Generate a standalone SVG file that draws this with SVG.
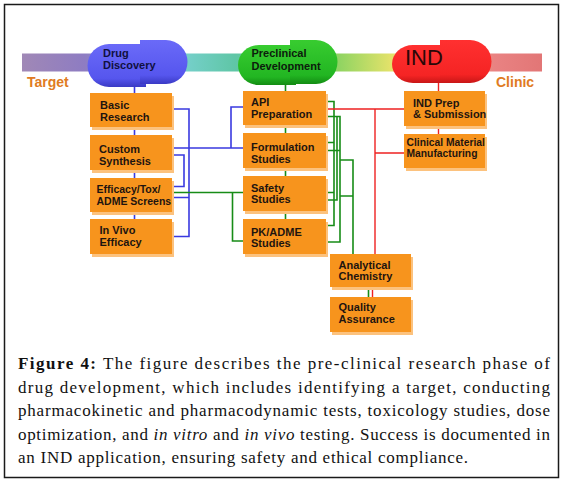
<svg xmlns="http://www.w3.org/2000/svg" width="564" height="486" viewBox="0 0 564 486">
<defs>
<linearGradient id="band" gradientUnits="userSpaceOnUse" x1="22" y1="0" x2="542" y2="0">
<stop offset="0" stop-color="#a088b6"/>
<stop offset="0.12" stop-color="#8e7cc2"/>
<stop offset="0.32" stop-color="#74cfc8"/>
<stop offset="0.41" stop-color="#5fc6a6"/>
<stop offset="0.61" stop-color="#90d462"/>
<stop offset="0.71" stop-color="#e4e26a"/>
<stop offset="0.91" stop-color="#e98282"/>
<stop offset="1" stop-color="#e27676"/>
</linearGradient>
<linearGradient id="gBlue" x1="0" y1="0" x2="0" y2="1">
<stop offset="0" stop-color="#6a6af8"/>
<stop offset="0.8" stop-color="#5656ee"/>
<stop offset="1" stop-color="#3a3ac4"/>
</linearGradient>
<linearGradient id="gGreen" x1="0" y1="0" x2="0" y2="1">
<stop offset="0" stop-color="#38cc30"/>
<stop offset="0.8" stop-color="#22b622"/>
<stop offset="1" stop-color="#138c13"/>
</linearGradient>
<linearGradient id="gRed" x1="0" y1="0" x2="0" y2="1">
<stop offset="0" stop-color="#ff3030"/>
<stop offset="0.8" stop-color="#f52424"/>
<stop offset="1" stop-color="#c81616"/>
</linearGradient>
</defs>
<style>
.frame{fill:#fff;stroke:#1a1a1a;stroke-width:1.5}
.shd{fill:#fcc27e}
.box{fill:#f7941d}
.bt{font-family:"Liberation Sans",Arial,sans-serif;font-weight:bold;font-size:11px;fill:#1e1410}
.pt{font-family:"Liberation Sans",Arial,sans-serif;font-weight:bold;font-size:11px}
.lab{font-family:"Liberation Sans",Arial,sans-serif;font-weight:bold;font-size:14px;fill:#e07b22}
.blue{fill:none;stroke:#3a3ae0;stroke-width:1.6}
.green{fill:none;stroke:#178c17;stroke-width:1.6}
.red{fill:none;stroke:#ee2222;stroke-width:1.4}
.cap{font-family:"Liberation Serif","Times New Roman",serif;font-size:17px;fill:#111}
</style>
<rect class="frame" x="4.5" y="4.5" width="554" height="473"/>
<rect x="22" y="53.5" width="520" height="18" fill="url(#band)"/>
<text class="lab" x="27" y="87">Target</text>
<text class="lab" x="496" y="87">Clinic</text>

<g id="connectors">
<path class="blue" d="M134.5,86V93 M134.5,127V135 M134.5,170V178 M134.5,212V219"/>
<path class="blue" d="M172,109H189V236.5H172 M172,197.5H189 M172,155H184V186.5H172 M172,148H243 M231,148V107H243"/>
<path class="green" d="M172,192.5H243 M232.5,192.5V241H243"/>
<path class="green" d="M285.5,85V91 M285.5,125V133 M285.5,168V176 M285.5,211V219"/>
<path class="green" d="M326,101.5H334V225.5H326 M326,142.5H334 M326,192.5H334"/>
<path class="green" d="M326,116.5H340V242H326 M326,150.5H340"/>
<path class="green" d="M326,200H337V116.5"/>
<path class="green" d="M340,160H353V254 M340,196H353"/>
<path class="green" d="M368.5,287V297"/>
<path class="red" d="M372.5,287V297"/>
<path class="red" d="M438.5,83V91 M438.5,126V134"/>
<path class="red" d="M326,109H404 M375,109V254 M375,153H404"/>
</g>

<g id="drug-discovery">
<path d="M146,44H109A21.5,21.5 0 0 0 109,87H146Z" fill="url(#gBlue)"/>
<path d="M140,40H166A21.5,22 0 0 1 166,84H140Z" fill="url(#gBlue)"/>
<text class="pt" fill="#101040"><tspan x="103" y="57">Drug</tspan><tspan x="103" y="69">Discovery</tspan></text>
</g>
<g id="preclinical-development">
<path d="M296,45H259A21,20 0 0 0 259,85H296Z" fill="url(#gGreen)"/>
<path d="M290,40H316A21.5,22 0 0 1 316,84H290Z" fill="url(#gGreen)"/>
<text class="pt" fill="#0c200c"><tspan x="251.5" y="57">Preclinical</tspan><tspan x="251.5" y="69.5">Development</tspan></text>
</g>
<g id="ind">
<path d="M446,45H413A21,19 0 0 0 413,83H446Z" fill="url(#gRed)"/>
<path d="M440,40H470A21.5,21.5 0 0 1 470,83H440Z" fill="url(#gRed)"/>
<text x="405" y="64.5" font-family="Liberation Sans,Arial,sans-serif" font-size="22" fill="#2a0808">IND</text>
</g>

<g id="basic-research">
<rect class="shd" x="92" y="96" width="82" height="34"/><rect class="box" x="90" y="93" width="82" height="34"/>
<text class="bt"><tspan x="100" y="108.5">Basic</tspan><tspan x="100" y="121">Research</tspan></text>
</g>
<g id="custom-synthesis">
<rect class="shd" x="92" y="138" width="82" height="35"/><rect class="box" x="90" y="135" width="82" height="35"/>
<text class="bt"><tspan x="99" y="152.5">Custom</tspan><tspan x="99" y="164.5">Synthesis</tspan></text>
</g>
<g id="efficacy-screens">
<rect class="shd" x="92" y="181" width="82" height="34"/><rect class="box" x="90" y="178" width="82" height="34"/>
<text class="bt" font-size="10.5"><tspan x="96.5" y="193" style="font-size:10.5px">Efficacy/Tox/</tspan><tspan x="96.5" y="204.5" style="font-size:10.5px">ADME Screens</tspan></text>
</g>
<g id="in-vivo-efficacy">
<rect class="shd" x="92" y="222" width="82" height="35"/><rect class="box" x="90" y="219" width="82" height="35"/>
<text class="bt"><tspan x="99.5" y="234">In Vivo</tspan><tspan x="99.5" y="246">Efficacy</tspan></text>
</g>

<g id="api-preparation">
<rect class="shd" x="245" y="94" width="83" height="34"/><rect class="box" x="243" y="91" width="83" height="34"/>
<text class="bt"><tspan x="251" y="106">API</tspan><tspan x="251" y="117.5">Preparation</tspan></text>
</g>
<g id="formulation-studies">
<rect class="shd" x="245" y="136" width="83" height="35"/><rect class="box" x="243" y="133" width="83" height="35"/>
<text class="bt"><tspan x="251" y="151">Formulation</tspan><tspan x="251" y="162.5">Studies</tspan></text>
</g>
<g id="safety-studies">
<rect class="shd" x="245" y="179" width="83" height="35"/><rect class="box" x="243" y="176" width="83" height="35"/>
<text class="bt"><tspan x="251" y="191.5">Safety</tspan><tspan x="251" y="202.5">Studies</tspan></text>
</g>
<g id="pk-adme-studies">
<rect class="shd" x="245" y="222" width="83" height="35"/><rect class="box" x="243" y="219" width="83" height="35"/>
<text class="bt"><tspan x="251" y="235.5">PK/ADME</tspan><tspan x="251" y="247">Studies</tspan></text>
</g>

<g id="ind-prep">
<rect class="shd" x="406" y="94" width="81" height="35"/><rect class="box" x="404" y="91" width="81" height="35"/>
<text class="bt"><tspan x="413" y="106.5">IND Prep</tspan><tspan x="413" y="117.5">&amp; Submission</tspan></text>
</g>
<g id="clinical-material">
<rect class="shd" x="406" y="137" width="81" height="34"/><rect class="box" x="404" y="134" width="81" height="34"/>
<text class="bt"><tspan x="406.5" y="146" style="font-size:10.3px">Clinical Material</tspan><tspan x="406.5" y="157" style="font-size:10.3px">Manufacturing</tspan></text>
</g>
<g id="analytical-chemistry">
<rect class="shd" x="332" y="257" width="81" height="33"/><rect class="box" x="330" y="254" width="81" height="33"/>
<text class="bt"><tspan x="338.5" y="268.5">Analytical</tspan><tspan x="338.5" y="280">Chemistry</tspan></text>
</g>
<g id="quality-assurance">
<rect class="shd" x="332" y="300" width="81" height="35"/><rect class="box" x="330" y="297" width="81" height="35"/>
<text class="bt"><tspan x="338.5" y="311">Quality</tspan><tspan x="338.5" y="322.5">Assurance</tspan></text>
</g>

<g id="caption">
<text class="cap" x="18" y="369" textLength="532" lengthAdjust="spacing"><tspan font-weight="bold">Figure 4:</tspan> The figure describes the pre-clinical research phase of</text>
<text class="cap" x="18" y="392.5" textLength="532" lengthAdjust="spacing">drug development, which includes identifying a target, conducting</text>
<text class="cap" x="18" y="416" textLength="532" lengthAdjust="spacing">pharmacokinetic and pharmacodynamic tests, toxicology studies, dose</text>
<text class="cap" x="18" y="439.5" textLength="532" lengthAdjust="spacing">optimization, and <tspan font-style="italic">in vitro</tspan> and <tspan font-style="italic">in vivo</tspan> testing. Success is documented in</text>
<text class="cap" x="18" y="463" textLength="450" lengthAdjust="spacing">an IND application, ensuring safety and ethical compliance.</text>
</g>
</svg>
